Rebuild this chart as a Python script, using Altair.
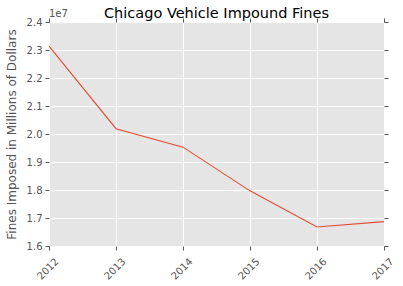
import altair as alt
import pandas as pd

years = [2012, 2013, 2014, 2015, 2016, 2017]
fines = [23140000, 20190000, 19530000, 17970000, 16680000, 16870000]

df = pd.DataFrame({"year": years, "fines": fines})

FONT = "DejaVu Sans"
GRAY = "#555555"

xscale = alt.Scale(domain=[2012, 2017], nice=False, zero=False)
yscale = alt.Scale(domain=[16000000, 24000000], nice=False, zero=False)
yticks = [16000000 + i * 1000000 for i in range(9)]

base = alt.Chart(df)

main = base.mark_line(color="#E24A33", strokeWidth=1.1, clip=True).encode(
    x=alt.X("year:Q", scale=xscale,
            axis=alt.Axis(values=years, format="d", labelAngle=-45, labelAlign="right",
                          labelBaseline="top", labelPadding=6, labelOffset=4, title=None,
                          grid=True, gridColor="white", gridWidth=1, domain=False,
                          tickColor=GRAY, tickSize=4, labelColor=GRAY, labelFont=FONT,
                          labelFontSize=10)),
    y=alt.Y("fines:Q", scale=yscale,
            axis=alt.Axis(values=yticks, labelExpr="format(datum.value/1e7, '.1f')",
                          title="Fines Imposed in Millions of Dollars", titleFont=FONT,
                          titleFontSize=12, titleFontWeight="normal", titleColor=GRAY,
                          titlePadding=8, grid=True, gridColor="white", gridWidth=1,
                          domain=False, tickColor=GRAY, tickSize=4, labelColor=GRAY,
                          labelFont=FONT, labelFontSize=10, labelPadding=3)),
)

mirror = base.mark_line(opacity=0).encode(
    x=alt.X("year:Q", scale=xscale,
            axis=alt.Axis(orient="top", values=years, labels=False, title=None, grid=False,
                          domain=False, tickColor=GRAY, tickSize=4)),
    y=alt.Y("fines:Q", scale=yscale,
            axis=alt.Axis(orient="right", values=yticks, labels=False, title=None, grid=False,
                          domain=False, tickColor=GRAY, tickSize=4)),
)

offset = base.mark_text(align="left", baseline="bottom", font=FONT, fontSize=10,
                        color=GRAY).encode(
    x=alt.value(0), y=alt.value(-3), text=alt.value("1e7")
).transform_filter("datum.year == 2012")

chart = alt.layer(main, mirror, offset).resolve_scale(
    x="independent", y="independent"
).properties(
    width=335, height=224,
    background="white",
    autosize=alt.AutoSizeParams(type="none"),
    padding={"left": 49, "top": 22, "right": 19, "bottom": 40},
    title=alt.TitleParams("Chicago Vehicle Impound Fines", font=FONT, fontSize=14.5,
                          fontWeight="normal", color="black", offset=-12),
).configure_view(fill="#E5E5E5", strokeWidth=0)

chart.save("out.html", embed_options={"renderer": "svg", "actions": False})
